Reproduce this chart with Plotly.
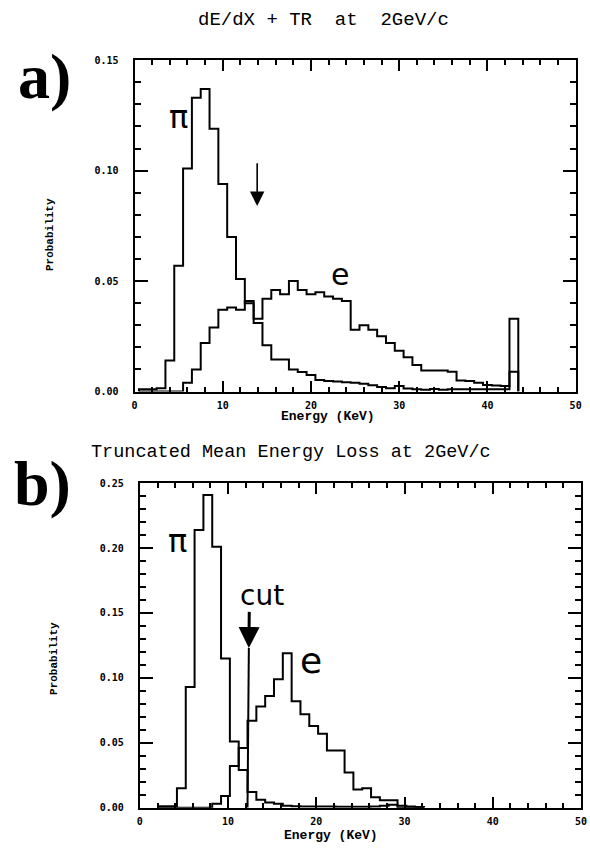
import plotly.graph_objects as go

W, H = 590, 858

# ---------------- Panel a: dE/dX + TR at 2 GeV/c (1 keV bins, centred on integers)
energy_a = [1, 2, 3, 4, 5, 6, 7, 8, 9, 10, 11, 12, 13, 14, 15, 16, 17, 18, 19, 20,
            21, 22, 23, 24, 25, 26, 27, 28, 29, 30, 31, 32, 33, 34, 35, 36, 37, 38, 39, 40,
            41, 42, 43]
pion_a = [0.001, 0.001, 0.0015, 0.014, 0.057, 0.101, 0.133, 0.137, 0.119, 0.094,
          0.070, 0.051, 0.040, 0.031, 0.021, 0.0145, 0.0145, 0.010, 0.0088, 0.0075,
          0.0052, 0.0048, 0.0045, 0.0042, 0.0040, 0.0035, 0.0028, 0.0020, 0.0015, 0.0025,
          0.0014, 0.0010, 0.0008, 0.0012, 0.0008, 0.0010, 0.0010, 0.0010, 0.0010, 0.0010,
          0.0010, 0.0010, 0.009]
electron_a = [0, 0, 0, 0, 0, 0.004, 0.010, 0.022, 0.029, 0.037,
              0.038, 0.037, 0.041, 0.033, 0.042, 0.046, 0.044, 0.050, 0.046, 0.044,
              0.045, 0.043, 0.042, 0.041, 0.028, 0.030, 0.028, 0.025, 0.022, 0.0185,
              0.0155, 0.012, 0.0095, 0.0095, 0.0095, 0.009, 0.005, 0.0048, 0.004, 0.003,
              0.0027, 0.0025, 0.033]

# ---------------- Panel b: truncated mean energy loss at 2 GeV/c
energy_b = [2.7, 3.7, 4.7, 5.7, 6.7, 7.7, 8.7, 9.7, 10.7, 11.7, 12.7, 13.7, 14.7, 15.7,
            16.7, 17.7, 18.7, 19.7, 20.7, 21.7, 22.7, 23.7, 24.7, 25.7, 26.7, 27.7, 28.7,
            29.7, 30.7, 31.7]
pion_b = [0.001, 0.001, 0.015, 0.093, 0.214, 0.241, 0.201, 0.115, 0.051, 0.029,
          0.012, 0.006, 0.004, 0.003, 0.0015, 0.001, 0.0008, 0.0008, 0.0008, 0.0008,
          0.0006, 0.0006, 0.0006, 0.0006, 0.0008, 0.0015, 0.0022, 0.0015, 0.0008, 0.0005]
electron_b = [0, 0, 0, 0, 0, 0, 0.003, 0.009, 0.032, 0.046,
              0.067, 0.078, 0.086, 0.099, 0.119, 0.082, 0.072, 0.063, 0.057, 0.044,
              0.044, 0.027, 0.014, 0.015, 0.008, 0.0056, 0.0056, 0, 0, 0]

cut_a = 13.9   # arrow position, panel a (keV)
cut_b = 12.3   # cut position, panel b (keV)

x_ticks = [0, 10, 20, 30, 40, 50]
y_ticks_a = [0.00, 0.05, 0.10, 0.15]
y_ticks_b = [0.00, 0.05, 0.10, 0.15, 0.20, 0.25]


def step(centers, vals, width=1.0):
    lefts = [c - width / 2 for c in centers]
    xs = [lefts[0]] + lefts + [lefts[-1] + width]
    ys = [0] + list(vals) + [0]
    return xs, ys


def px(x):
    return x / W


def py(y):
    return 1 - y / H


fig = go.Figure()
line = dict(color="black", width=2)
for xs_ys, xa, ya in [
    (step(energy_a, pion_a), "x", "y"),
    (step(energy_a, electron_a), "x", "y"),
    (step(energy_b, pion_b), "x2", "y2"),
    (step(energy_b, electron_b), "x2", "y2"),
]:
    fig.add_trace(go.Scatter(x=xs_ys[0], y=xs_ys[1], mode="lines", line_shape="hv",
                             line=line, xaxis=xa, yaxis=ya, showlegend=False,
                             hoverinfo="skip"))

# cut stem down to the baseline in panel b
fig.add_trace(go.Scatter(x=[cut_b + 0.05, cut_b - 0.1], y=[0.123, 0.0], mode="lines",
                         line=dict(color="black", width=2), xaxis="x2", yaxis="y2",
                         showlegend=False, hoverinfo="skip"))

tickfont = dict(family="DejaVu Sans Mono", size=10, color="black", weight="bold")
common_x = dict(range=[0, 50], tickvals=x_ticks, ticktext=[str(v) for v in x_ticks],
                ticks="inside", ticklen=11, tickwidth=1.5, tickcolor="black",
                minor=dict(dtick=2, tick0=0, ticks="inside", ticklen=5, tickwidth=1.5,
                           tickcolor="black"),
                showline=True, linewidth=2, linecolor="black", mirror="allticks",
                showgrid=False, zeroline=False, tickfont=tickfont, ticklabelstandoff=3)
common_y = dict(ticks="inside", ticklen=13, tickwidth=2, tickcolor="black",
                minor=dict(dtick=0.01, tick0=0, ticks="inside", ticklen=6, tickwidth=1.5,
                           tickcolor="black"),
                showline=True, linewidth=2, linecolor="black", mirror="allticks",
                showgrid=False, zeroline=False, tickfont=tickfont, ticklabelstandoff=12)

fig.update_layout(
    width=W, height=H, margin=dict(l=0, r=0, t=0, b=0),
    paper_bgcolor="white", plot_bgcolor="white",
    xaxis=dict(domain=[px(133.6), px(581.5)], anchor="y", **common_x),
    yaxis=dict(domain=[py(391), py(55)], anchor="x", range=[0, 0.15],
               tickvals=y_ticks_a, ticktext=[f"{v:.2f}" for v in y_ticks_a], **common_y),
    xaxis2=dict(domain=[px(139), px(587)], anchor="y2", **common_x),
    yaxis2=dict(domain=[py(813), py(484)], anchor="x2", range=[0, 0.25],
                tickvals=y_ticks_b, ticktext=[f"{v:.2f}" for v in y_ticks_b], **common_y),
)

mono = "Liberation Mono"
hand = "DejaVu Sans"
ann = []


def text(x, y, s, size, family=mono, color="black", weight="normal", xanchor="center",
         textangle=0):
    ann.append(dict(x=px(x), y=py(y), xref="paper", yref="paper", text=s, showarrow=False,
                    xanchor=xanchor, yanchor="middle", textangle=textangle,
                    font=dict(family=family, size=size, color=color, weight=weight)))


# titles
text(325, 14, "dE/dX + TR  at  2GeV/c", 19)
text(87, 453, "Truncated Mean Energy Loss at 2GeV/c", 18.5, xanchor="left")
# panel letters
text(42, 72, "a)", 64, family="Liberation Serif", weight="bold")
text(40, 484, "b)", 64, family="Liberation Serif", weight="bold")
# axis titles
text(330, 416, "Energy (KeV)", 13, weight="bold")
text(333, 841, "Energy (KeV)", 13, weight="bold")
text(47, 232, "Probability", 11, weight="bold", textangle=-90)
text(52, 662, "Probability", 11, weight="bold", textangle=-90)
# hand-written labels
text(178, 113, "π", 32, family=hand)
text(342, 272, "e", 30, family=hand)
text(177, 543, "π", 32, family=hand)
text(313, 664, "e", 36, family=hand)
text(263, 598, "cut", 28, family=hand)

# arrows
ann.append(dict(x=cut_a, y=0.084, xref="x", yref="y", ax=cut_a, ay=0.104, axref="x",
                ayref="y", showarrow=True, arrowhead=2, arrowsize=1.8, arrowwidth=1.6,
                arrowcolor="black", text=""))
ann.append(dict(x=cut_b + 0.05, y=0.123, xref="x2", yref="y2", ax=cut_b + 0.1, ay=0.152,
                axref="x2", ayref="y2", showarrow=True, arrowhead=2, arrowsize=1.4,
                arrowwidth=3, arrowcolor="black", text=""))

fig.update_layout(annotations=ann)
fig.write_html("out.html")
